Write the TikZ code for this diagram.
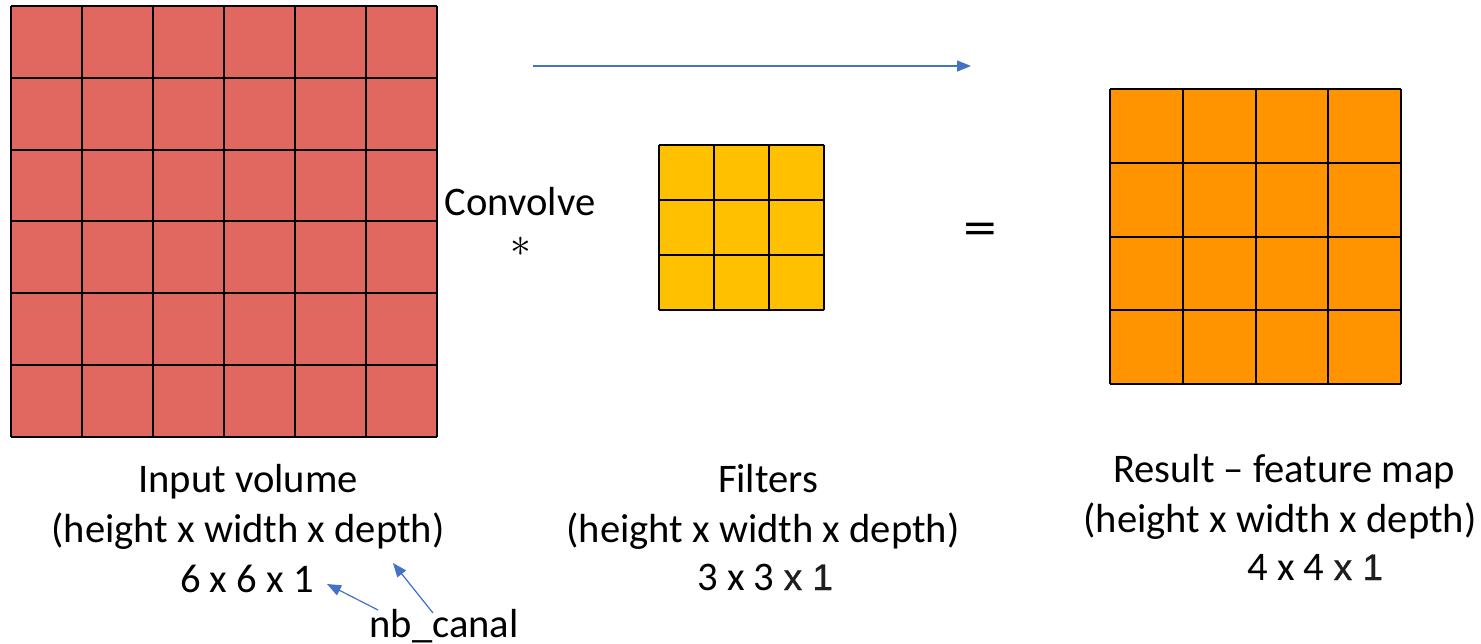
\documentclass[tikz,border=0pt]{standalone}
\usepackage{fontspec}
\usepackage{graphicx}
\setmainfont{Carlito}
\newfontfamily\arialfont{Liberation Sans}
\usetikzlibrary{arrows.meta}
\definecolor{cellred}{RGB}{225,103,97}
\definecolor{cellyellow}{RGB}{255,192,0}
\definecolor{cellorange}{RGB}{255,148,0}
\definecolor{pointer}{RGB}{68,114,196}
\definecolor{pastegray}{RGB}{30,30,30}
\newcommand{\pastedx}{{\arialfont\addfontfeature{FakeBold=0.9}\fontsize{18.5}{20}\selectfont\color{pastegray}x 1}}

\begin{document}
\begin{tikzpicture}[x=0.5pt,y=-0.5pt,
  lbl/.style={font=\fontsize{20.3}{24}\selectfont, inner sep=0pt, anchor=base},
  gridline/.style={line width=1pt, black},
  pointerarrow/.style={pointer, line width=0.6pt, -{Triangle[length=7pt,width=5.5pt]}}]
\useasboundingbox (0,0) rectangle (1481,643);

% input volume 6x6
\fill[cellred] (11,6) rectangle (437,437);
\foreach \i in {0,...,6} {
  \draw[gridline] (11+71*\i,6) -- (11+71*\i,437);
  \draw[gridline] (11,6+71.83*\i) -- (437,6+71.83*\i);
}

% filter 3x3
\fill[cellyellow] (659,145) rectangle (824,310);
\foreach \i in {0,...,3} {
  \draw[gridline] (659+55*\i,145) -- (659+55*\i,310);
  \draw[gridline] (659,145+55*\i) -- (824,145+55*\i);
}

% feature map 4x4
\fill[cellorange] (1110,89) rectangle (1401,384);
\foreach \i in {0,...,4} {
  \draw[gridline] (1110+72.75*\i,89) -- (1110+72.75*\i,384);
  \draw[gridline] (1110,89+73.75*\i) -- (1401,89+73.75*\i);
}

% direction arrow
\coordinate (flowstart) at (533,66);
\coordinate (flowend) at (971,66);
\draw[pointerarrow] (flowstart) -- (flowend);

% operators
\node[lbl] (convolve) at (520,215) {Convolve};
\node[font=\fontsize{22}{24}\selectfont, inner sep=0pt] (star) at (520.5,247) {$\ast$};
\node[font=\fontsize{26}{28}\selectfont, inner sep=0pt] (equals) at (980,234) {\scalebox{1.3}[1]{=}};

% captions: input
\node[lbl] (intitle) at (248,492) {Input volume};
\node[lbl] (indims) at (248,542) {(height x width x depth)};
\node[lbl] (insize) at (247,592) {6 x 6 x 1};
\node[lbl] (nb) at (444,637) {nb\_canal};

% captions: filters
\node[lbl] (ftitle) at (768,492) {Filters};
\node[lbl] (fdims) at (763,542) {(height x width x depth)};
\node[lbl, anchor=base west] (fsize) at (697,590) {3 x 3 \pastedx};

% captions: result
\node[lbl] (rtitle) at (1284,482) {Result -- feature map};
\node[lbl] (rdims) at (1280,532) {(height x width x depth)};
\node[lbl, anchor=base west] (rsize) at (1247,580) {4 x 4 \pastedx};

% channel pointers
\coordinate (ptrA) at (378,610);
\coordinate (ptrB) at (433,613);
\coordinate (tipA) at (327,584);
\coordinate (tipB) at (393,563);
\draw[pointerarrow] (ptrA) -- (tipA);
\draw[pointerarrow] (ptrB) -- (tipB);
\end{tikzpicture}
\end{document}
